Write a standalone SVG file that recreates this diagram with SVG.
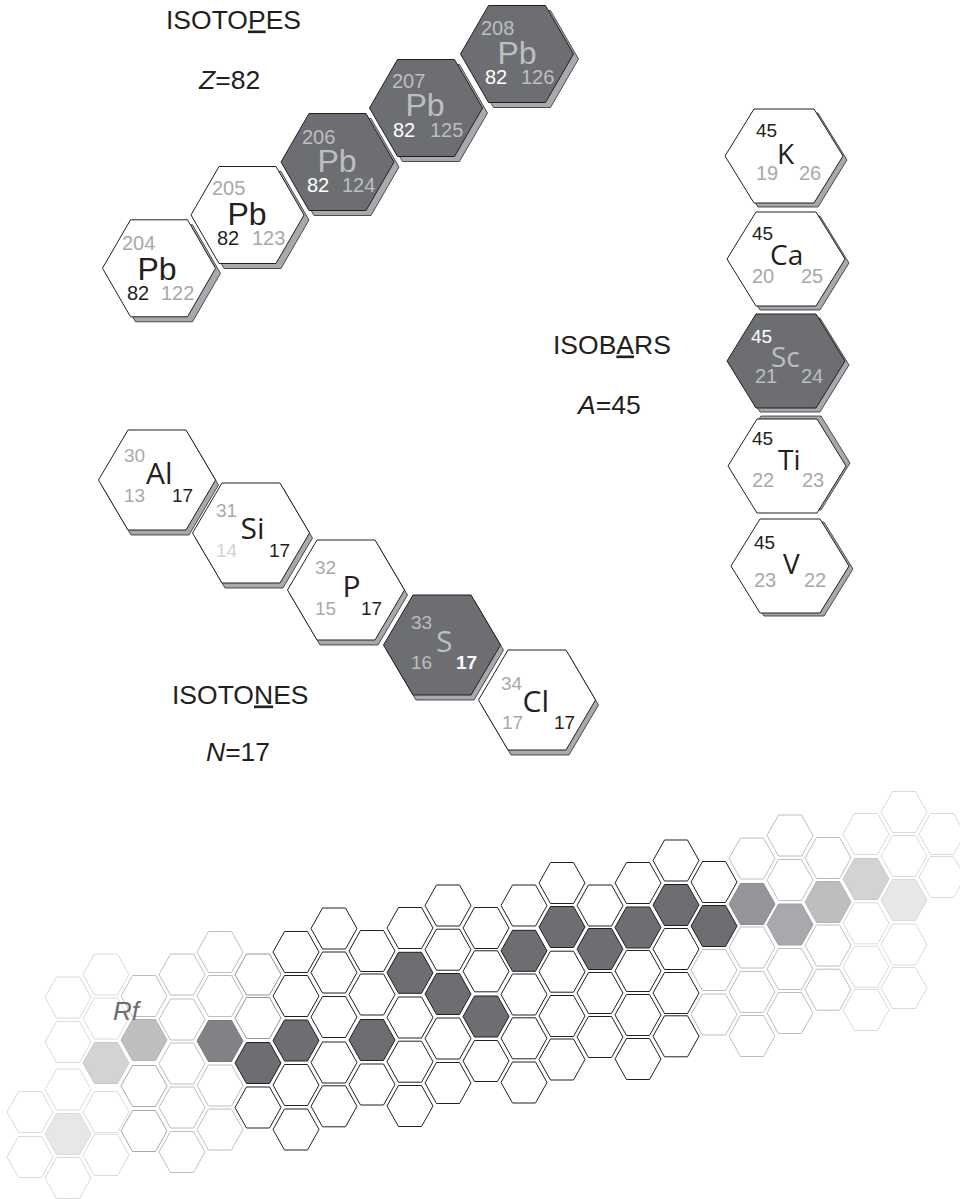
<svg xmlns="http://www.w3.org/2000/svg" xmlns:xlink="http://www.w3.org/1999/xlink" width="960" height="1199" viewBox="0 0 960 1199">
<style>
text{font-family:"Liberation Sans",Arial,sans-serif}
.lbl{font-size:26.5px;fill:#231f20}
.sym{font-family:"Open Sans","Liberation Sans",sans-serif}
.n{font-size:20px}
.ns{font-size:19px}
.k{fill:#231f20}
.gr{fill:#a7a9ac}
.lg{fill:#bcbec0}
.vl{fill:#d1d3d4}
.wh{fill:#fff}
.main{stroke:#231f20;stroke-width:1}
.wf{fill:#fff}
.df{fill:#6d6e71}
.sh{fill:#a7a9ac;stroke:#231f20;stroke-width:0.75}
.g0{fill:#fff;stroke:#231f20}
.g1{fill:#fff;stroke:#939598}
.g15{fill:#fff;stroke:#a7a9ac}
.g2{fill:#fff;stroke:#bcbec0}
.g3{fill:#fff;stroke:#d9dadb}
.d{fill:#6d6e71;stroke:#231f20}
.f1{fill:#e6e7e8;stroke:#d9dadb}
.f2{fill:#d1d3d4;stroke:#c7c8ca}
.f3{fill:#bcbec0;stroke:#b1b3b6}
.f5{fill:#808285;stroke:#77787b}
.f19{fill:#939598;stroke:#8a8c8e}
.f20{fill:#a7a9ac;stroke:#9d9fa2}
.f21{fill:#bcbec0;stroke:#b1b3b6}
.f22{fill:#d1d3d4;stroke:#c7c8ca}
.f23{fill:#e6e7e8;stroke:#d9dadb}
#grid use{stroke-width:1}
</style>
<defs>
<polygon id="hp" points="-56.5,0 -28.5,-48.5 28.5,-48.5 56.5,0 28.5,48.5 -28.5,48.5"/>
<polygon id="hb" points="-59,0 -30,-47 30,-47 59,0 30,47 -30,47"/>
<polygon id="ht" points="-58.5,0 -29,-50 29,-50 58.5,0 29,50 -29,50"/>
<polygon id="g" points="-23,0 -11.5,-20.5 11.5,-20.5 23,0 11.5,20.5 -11.5,20.5"/>
</defs>
<rect width="960" height="1199" fill="#fff"/>

<!-- labels -->
<g id="labels">
<text x="166" y="28.5" class="lbl">ISOTO<tspan style="text-decoration:underline">P</tspan>ES</text>
<text x="199" y="88.5" class="lbl"><tspan font-style="italic">Z</tspan>=82</text>
<text x="553" y="353.5" class="lbl">ISOB<tspan style="text-decoration:underline">A</tspan>RS</text>
<text x="578" y="413.5" class="lbl"><tspan font-style="italic">A</tspan>=45</text>
<text x="172" y="703.5" class="lbl">ISOTO<tspan style="text-decoration:underline">N</tspan>ES</text>
<text x="206" y="761" class="lbl"><tspan font-style="italic">N</tspan>=17</text>
</g>

<!-- isotopes -->
<g id="pb204">
<use href="#hp" x="164" y="273.3" class="sh"/>
<use href="#hp" x="159" y="268.3" class="main wf"/>
<text x="122" y="250" class="n gr">204</text>
<text x="137.5" y="280" class="k" font-size="32">Pb</text>
<text x="127" y="300" class="n k">82</text>
<text x="161" y="300" class="n gr">122</text>
</g>
<g id="pb205">
<use href="#hp" x="252.5" y="220" class="sh"/>
<use href="#hp" x="247.5" y="215" class="main wf"/>
<text x="212" y="195" class="n gr">205</text>
<text x="227.5" y="225" class="k" font-size="32">Pb</text>
<text x="217" y="245" class="n k">82</text>
<text x="252" y="245" class="n gr">123</text>
</g>
<g id="pb206">
<use href="#hp" x="342.5" y="167" class="sh"/>
<use href="#hp" x="337.5" y="162" class="main df"/>
<text x="302" y="143.5" class="n lg">206</text>
<text x="317.5" y="171.5" class="lg" font-size="32">Pb</text>
<text x="307" y="191.5" class="n wh">82</text>
<text x="342" y="191.5" class="n lg">124</text>
</g>
<g id="pb207">
<use href="#hp" x="431" y="113" class="sh"/>
<use href="#hp" x="426" y="108" class="main df"/>
<text x="392" y="87.5" class="n lg">207</text>
<text x="405.5" y="116" class="lg" font-size="32">Pb</text>
<text x="393" y="136.5" class="n wh">82</text>
<text x="430" y="136.5" class="n lg">125</text>
</g>
<g id="pb208">
<use href="#hp" x="522" y="59" class="sh"/>
<use href="#hp" x="517" y="54" class="main df"/>
<text x="481" y="34.5" class="n lg">208</text>
<text x="497.5" y="63.5" class="lg" font-size="32">Pb</text>
<text x="485" y="83.5" class="n wh">82</text>
<text x="521" y="83.5" class="n lg">126</text>
</g>

<!-- isobars -->
<g id="k45">
<use href="#hb" x="788" y="160" class="sh"/>
<use href="#hb" x="784" y="156" class="main wf"/>
<text x="756" y="137" class="ns k">45</text>
<text x="777" y="163.5" class="sym k" font-size="28">K</text>
<text x="756" y="180" class="n gr">19</text>
<text x="799" y="180" class="n gr">26</text>
</g>
<g id="ca45">
<use href="#hb" x="790" y="263" class="sh"/>
<use href="#hb" x="786" y="259" class="main wf"/>
<text x="752" y="240" class="ns k">45</text>
<text x="770" y="265" class="sym k" font-size="28">Ca</text>
<text x="752" y="283" class="n gr">20</text>
<text x="801" y="283" class="n gr">25</text>
</g>
<g id="sc45">
<use href="#hb" x="790" y="365" class="sh"/>
<use href="#hb" x="786" y="361" class="main df"/>
<text x="751" y="343" class="ns wh">45</text>
<text x="771" y="367" class="sym lg" font-size="28">Sc</text>
<text x="755" y="383" class="n lg">21</text>
<text x="801" y="383" class="n lg">24</text>
</g>
<g id="ti45">
<use href="#hb" x="791" y="463" class="sh"/>
<use href="#hb" x="787" y="466" class="main wf"/>
<text x="752" y="445" class="ns k">45</text>
<text x="778" y="470" class="sym k" font-size="28">Ti</text>
<text x="752" y="487" class="n gr">22</text>
<text x="802" y="487" class="n gr">23</text>
</g>
<g id="v45">
<use href="#hb" x="794" y="569" class="sh"/>
<use href="#hb" x="790" y="566" class="main wf"/>
<text x="754" y="548.5" class="ns k">45</text>
<text x="783" y="573.5" class="sym k" font-size="28">V</text>
<text x="754" y="587" class="n gr">23</text>
<text x="804" y="587" class="n gr">22</text>
</g>

<!-- isotones -->
<g id="al30">
<use href="#ht" x="160" y="485" class="sh"/>
<use href="#ht" x="157" y="480" class="main wf"/>
<text x="124" y="462" class="ns gr">30</text>
<text x="146" y="483.5" class="sym k" font-size="30">Al</text>
<text x="124" y="502" class="ns gr">13</text>
<text x="172" y="502" class="ns k">17</text>
</g>
<g id="si31">
<use href="#ht" x="254" y="538" class="sh"/>
<use href="#ht" x="251" y="533" class="main wf"/>
<text x="216" y="517" class="ns gr">31</text>
<text x="240.5" y="538.5" class="sym k" font-size="30">Si</text>
<text x="216" y="557" class="ns vl">14</text>
<text x="269" y="557" class="ns k">17</text>
</g>
<g id="p32">
<use href="#ht" x="349" y="595" class="sh"/>
<use href="#ht" x="346" y="590" class="main wf"/>
<text x="315" y="574" class="ns gr">32</text>
<text x="342.5" y="597" class="sym k" font-size="30">P</text>
<text x="315" y="615" class="ns gr">15</text>
<text x="361" y="615" class="ns k">17</text>
</g>
<g id="s33">
<use href="#ht" x="445" y="650" class="sh"/>
<use href="#ht" x="442" y="645" class="main df"/>
<text x="411" y="628.5" class="ns lg">33</text>
<text x="436" y="652" class="sym lg" font-size="30">S</text>
<text x="411" y="668.5" class="ns lg">16</text>
<text x="456" y="669" class="ns wh" font-weight="bold">17</text>
</g>
<g id="cl34">
<use href="#ht" x="540" y="705" class="sh"/>
<use href="#ht" x="537" y="700" class="main wf"/>
<text x="501" y="690" class="ns gr">34</text>
<text x="522.5" y="712" class="sym k" font-size="30">Cl</text>
<text x="502" y="728.5" class="ns gr">17</text>
<text x="554" y="728.5" class="ns k">17</text>
</g>

<!-- chart of nuclides -->
<g id="grid">
<use href="#g" x="30" y="1112" class="g3"/><use href="#g" x="30" y="1157" class="g3"/>
<use href="#g" x="68" y="997.5" class="g3"/><use href="#g" x="68" y="1042" class="g3"/><use href="#g" x="68" y="1089.5" class="g3"/><use href="#g" x="68" y="1134" class="f1"/><use href="#g" x="68" y="1178" class="g3"/>
<use href="#g" x="106" y="974.5" class="g3"/><use href="#g" x="106" y="1018.5" class="g3"/><use href="#g" x="106" y="1063" class="f2"/><use href="#g" x="106" y="1112" class="g3"/><use href="#g" x="106" y="1155" class="g3"/>
<use href="#g" x="144" y="996" class="g2"/><use href="#g" x="144" y="1040" class="f3"/><use href="#g" x="144" y="1086" class="g15"/><use href="#g" x="144" y="1131" class="g15"/>
<use href="#g" x="182" y="974.5" class="g2"/><use href="#g" x="182" y="1019.5" class="g2"/><use href="#g" x="182" y="1063.5" class="g2"/><use href="#g" x="182" y="1107.5" class="g2"/><use href="#g" x="182" y="1152" class="g2"/>
<use href="#g" x="220" y="952" class="g2"/><use href="#g" x="220" y="996" class="g2"/><use href="#g" x="220" y="1041" class="f5"/><use href="#g" x="220" y="1085.5" class="g2"/><use href="#g" x="220" y="1129.5" class="g2"/>
<use href="#g" x="258" y="974.5" class="g1"/><use href="#g" x="258" y="1018" class="g1"/><use href="#g" x="258" y="1063" class="d"/><use href="#g" x="258" y="1107.5" class="g0"/>
<use href="#g" x="296" y="952" class="g0"/><use href="#g" x="296" y="996" class="g0"/><use href="#g" x="296" y="1040.5" class="d"/><use href="#g" x="296" y="1085" class="g0"/><use href="#g" x="296" y="1129.5" class="g0"/>
<use href="#g" x="334" y="928.5" class="g0"/><use href="#g" x="334" y="972.5" class="g0"/><use href="#g" x="334" y="1017" class="g0"/><use href="#g" x="334" y="1062.5" class="g0"/><use href="#g" x="334" y="1106.3" class="g0"/>
<use href="#g" x="372" y="951" class="g0"/><use href="#g" x="372" y="994.5" class="g0"/><use href="#g" x="372" y="1040" class="d"/><use href="#g" x="372" y="1084.5" class="g0"/>
<use href="#g" x="410" y="928" class="g0"/><use href="#g" x="410" y="972.8" class="d"/><use href="#g" x="410" y="1017.5" class="g0"/><use href="#g" x="410" y="1061.7" class="g0"/><use href="#g" x="410" y="1106" class="g0"/>
<use href="#g" x="448" y="905.5" class="g0"/><use href="#g" x="448" y="949.7" class="g0"/><use href="#g" x="448" y="994" class="d"/><use href="#g" x="448" y="1038.5" class="g0"/><use href="#g" x="448" y="1083" class="g0"/>
<use href="#g" x="486" y="928" class="g0"/><use href="#g" x="486" y="971.3" class="g0"/><use href="#g" x="486" y="1016.5" class="d"/><use href="#g" x="486" y="1061" class="g0"/>
<use href="#g" x="524" y="905.5" class="g0"/><use href="#g" x="524" y="950.8" class="d"/><use href="#g" x="524" y="994.5" class="g0"/><use href="#g" x="524" y="1038.3" class="g0"/><use href="#g" x="524" y="1082.5" class="g0"/>
<use href="#g" x="562" y="883" class="g0"/><use href="#g" x="562" y="927" class="d"/><use href="#g" x="562" y="971.7" class="g0"/><use href="#g" x="562" y="1016" class="g0"/><use href="#g" x="562" y="1059.5" class="g0"/>
<use href="#g" x="600" y="905.5" class="g0"/><use href="#g" x="600" y="949" class="d"/><use href="#g" x="600" y="993" class="g0"/><use href="#g" x="600" y="1037" class="g0"/>
<use href="#g" x="638" y="883" class="g0"/><use href="#g" x="638" y="927.5" class="d"/><use href="#g" x="638" y="971" class="g0"/><use href="#g" x="638" y="1015" class="g0"/><use href="#g" x="638" y="1059" class="g0"/>
<use href="#g" x="676" y="860.5" class="g0"/><use href="#g" x="676" y="905" class="d"/><use href="#g" x="676" y="949" class="g0"/><use href="#g" x="676" y="993" class="g0"/><use href="#g" x="676" y="1036.3" class="g0"/>
<use href="#g" x="714" y="882" class="g0"/><use href="#g" x="714" y="926" class="d"/><use href="#g" x="714" y="970" class="g2"/><use href="#g" x="714" y="1014.5" class="g2"/>
<use href="#g" x="752" y="858.5" class="g2"/><use href="#g" x="752" y="904" class="f19"/><use href="#g" x="752" y="947.5" class="g2"/><use href="#g" x="752" y="992" class="g2"/><use href="#g" x="752" y="1036" class="g2"/>
<use href="#g" x="790" y="835.5" class="g2"/><use href="#g" x="790" y="880" class="g2"/><use href="#g" x="790" y="924.5" class="f20"/><use href="#g" x="790" y="969" class="g2"/><use href="#g" x="790" y="1013" class="g2"/>
<use href="#g" x="828" y="858" class="g2"/><use href="#g" x="828" y="902" class="f21"/><use href="#g" x="828" y="945.5" class="g2"/><use href="#g" x="828" y="989.7" class="g2"/>
<use href="#g" x="866" y="834" class="g3"/><use href="#g" x="866" y="879" class="f22"/><use href="#g" x="866" y="923.3" class="g3"/><use href="#g" x="866" y="966.7" class="g3"/><use href="#g" x="866" y="1010" class="g3"/>
<use href="#g" x="904" y="812" class="g3"/><use href="#g" x="904" y="856" class="g3"/><use href="#g" x="904" y="900" class="f23"/><use href="#g" x="904" y="944.5" class="g3"/><use href="#g" x="904" y="988" class="g3"/>
<use href="#g" x="942" y="834" class="g3"/><use href="#g" x="942" y="877" class="g3"/>
</g>
<text x="113" y="1020" font-family="Liberation Serif" font-style="italic" font-size="26" fill="#6d6e71">Rf</text>
</svg>
